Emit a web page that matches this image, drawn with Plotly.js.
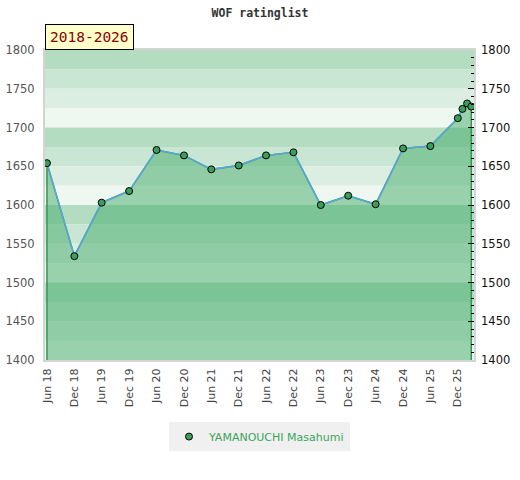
<!DOCTYPE html>
<html>
<head>
<meta charset="utf-8">
<script src="https://cdn.plot.ly/plotly-3.0.1.min.js"></script>
<style>html,body{margin:0;padding:0;background:#fff;}#chart{width:520px;height:480px;}</style>
</head>
<body>
<div id="chart"></div>
<script>
// ---- data ----
const chartTitle = 'WOF ratinglist';
const periodLabel = '2018-2026';
const playerName = 'YAMANOUCHI Masahumi';
const dates = ['2018-06-01','2018-12-01','2019-06-01','2019-12-01','2020-06-01','2020-12-01',
  '2021-06-01','2021-12-01','2022-06-01','2022-12-01','2023-06-01','2023-12-01','2024-06-01',
  '2024-12-01','2025-06-01','2025-12-01','2026-01-01','2026-02-01','2026-03-01'];
const ratings = [1654,1534,1603,1618,1671,1664,1646,1651,1664,1668,1600,1612,1601,1673,1676,1712,1724,1731,1727];
const tickDates = ['2018-06-01','2018-12-01','2019-06-01','2019-12-01','2020-06-01','2020-12-01',
  '2021-06-01','2021-12-01','2022-06-01','2022-12-01','2023-06-01','2023-12-01','2024-06-01',
  '2024-12-01','2025-06-01','2025-12-01'];
const tickLabels = ['Jun 18','Dec 18','Jun 19','Dec 19','Jun 20','Dec 20','Jun 21','Dec 21',
  'Jun 22','Dec 22','Jun 23','Dec 23','Jun 24','Dec 24','Jun 25','Dec 25'];
const yMin = 1400, yMax = 1800;
const xRange = ['2018-05-19','2026-03-19'];
const bandColors = ['#b3dcc0','#c8e6d3','#dcede2','#eff7f1'];
const bandStep = 25;

// ---- background bands ----
const shapes = [];
let k = 0;
for (let top = yMax; top > yMin; top -= bandStep, k++) {
  shapes.push({type:'rect', xref:'paper', yref:'y', x0:0, x1:1, y0:top - bandStep, y1:top,
    fillcolor: bandColors[k % bandColors.length], line:{width:0}, layer:'below'});
}

const fillX = [dates[0]].concat(dates, [dates[dates.length-1]]);
const fillY = [yMin].concat(ratings, [yMin]);

const traces = [
  {x: fillX, y: fillY, type:'scatter', mode:'lines', fill:'toself',
   fillcolor:'rgba(67,172,106,0.5)', line:{color:'#2e9a50', width:1.5},
   hoverinfo:'skip', showlegend:false},
  {x: dates, y: ratings, type:'scatter', mode:'lines',
   line:{color:'#5ba6dc', width:1.5}, showlegend:false},
  {x: dates, y: ratings, type:'scatter', mode:'markers', name: playerName,
   marker:{color:'#3a9f5c', size:7, line:{color:'#000', width:1}}, showlegend:true},
  {x: [dates[0]], y: [ratings[0]], yaxis:'y2', type:'scatter', mode:'markers',
   marker:{opacity:0}, showlegend:false, hoverinfo:'skip'}
];

const layout = {
  width:520, height:480,
  margin:{l:45, r:46, t:50, b:120},
  paper_bgcolor:'#fff', plot_bgcolor:'#fff',
  font:{family:'DejaVu Sans, sans-serif', size:11, color:'#444'},
  title:{text: chartTitle, x:0.5, xanchor:'center', y:0.973, yanchor:'middle', yref:'container',
    font:{family:'DejaVu Sans Mono, monospace', size:11.5, color:'#333', weight:'bold'}},
  xaxis:{type:'date', range:xRange, tickmode:'array', tickvals:tickDates, ticktext:tickLabels,
    tickangle:-90, ticks:'', showgrid:false, zeroline:false, showline:true, mirror:true,
    linecolor:'#d4d4d4', linewidth:2, tickfont:{size:11, color:'#444'}, ticklabelstandoff:2},
  yaxis:{range:[yMin,yMax], dtick:50, ticks:'', showgrid:false, zeroline:false,
    showline:true, mirror:true, linecolor:'#d4d4d4', linewidth:2, ticklabelstandoff:6,
    tickfont:{size:11.5, color:'#555'}},
  yaxis2:{range:[yMin,yMax], overlaying:'y', side:'right', dtick:50, ticks:'inside', ticklen:6,
    tickcolor:'#000', tickwidth:1, showgrid:false, zeroline:false, showline:false, ticklabelstandoff:6,
    minor:{dtick:10, ticks:'inside', ticklen:3, tickcolor:'#000', tickwidth:1, showgrid:false},
    tickfont:{size:11.5, color:'#111'}},
  showlegend:true,
  legend:{orientation:'h', x:0.5, xanchor:'center', y:-0.247, yanchor:'middle',
    bgcolor:'#f0f0f0', font:{size:11, color:'#3aa55c'}},
  shapes: shapes,
  annotations:[{text: periodLabel, xref:'paper', yref:'paper', x:0, y:1, xanchor:'left', yanchor:'bottom',
    showarrow:false, bgcolor:'#ffffcc', bordercolor:'#000', borderwidth:1, borderpad:4,
    font:{family:'DejaVu Sans Mono, monospace', size:14.5, color:'#8b0000'}}]
};

Plotly.newPlot('chart', traces, layout, {displayModeBar:false, staticPlot:true});
</script>
</body>
</html>
